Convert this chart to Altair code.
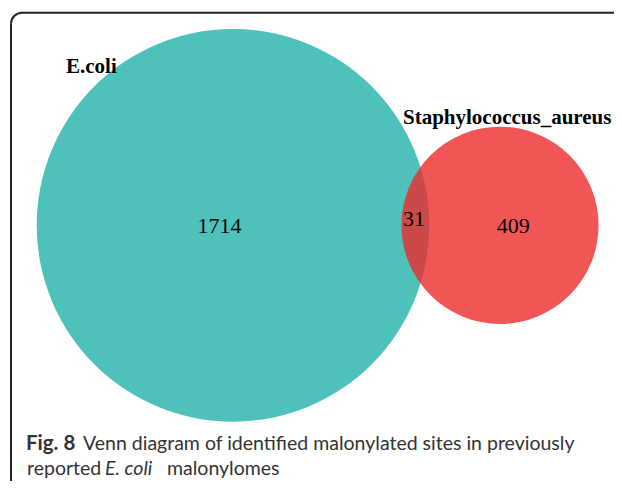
import altair as alt
import pandas as pd

# ---- data -------------------------------------------------------------
sets = ["E.coli", "Staphylococcus_aureus"]
set_totals = [1745, 440]            # 1714 + 31, 409 + 31
set_colors = ["#4EC1BB", "#ED292A"]
set_opacity = [1.0, 0.79]
center_x = [233, 500]               # layout units
center_y = [225.3, 225.3]

label_x = [66, 403]
label_y = [73, 124]

region_values = ["1714", "31", "409"]
region_x = [219.5, 414, 513.3]
region_y = [233, 226, 233]

caption_bold = ["Fig. 8"]
caption_regular = ["Venn diagram of identified malonylated sites in previously", "reported", "malonylomes"]
caption_italic = ["E. coli"]

# ---- layout helpers -----------------------------------------------------
W, H = 606, 473
xs = alt.Scale(domain=[8, 8 + W], nice=False, zero=False)
ys = alt.Scale(domain=[8, 8 + H], nice=False, zero=False, reverse=True)

def X(f="x"):
    return alt.X(f"{f}:Q", scale=xs, axis=None)

def Y(f="y"):
    return alt.Y(f"{f}:Q", scale=ys, axis=None)

# frame: top edge, left edge and a rounded top-left corner
frame_col = "#222222"
top_df = pd.DataFrame({"x": [22], "x2": [700], "y": [12.7]})
left_df = pd.DataFrame({"x": [11], "y": [23.7], "y2": [560]})
corner_df = pd.DataFrame({"x": [22], "y": [23.7]})
top_line = alt.Chart(top_df).mark_rule(color=frame_col, strokeWidth=2).encode(
    x=X(), x2="x2:Q", y=Y())
left_line = alt.Chart(left_df).mark_rule(color=frame_col, strokeWidth=2).encode(
    x=X(), y=Y(), y2="y2:Q")
corner = alt.Chart(corner_df).mark_arc(
    color=frame_col, theta=4.7124, theta2=6.2832, radius=12, radius2=10
).encode(x=X(), y=Y())

circ_df = pd.DataFrame({
    "set": sets, "total": set_totals, "x": center_x, "y": center_y,
    "op": set_opacity, "order": [0, 1],
})
circles = alt.Chart(circ_df).mark_point(shape="circle", filled=True, strokeWidth=0).encode(
    x=X(), y=Y(),
    size=alt.Size("total:Q", scale=alt.Scale(domain=[0, 1745], range=[0, 4 * 196.3 ** 2]), legend=None),
    color=alt.Color("set:N", scale=alt.Scale(domain=sets, range=set_colors), legend=None),
    opacity=alt.Opacity("op:Q", scale=None),
    order=alt.Order("order:Q"),
)

lab_df = pd.DataFrame({"t": sets, "x": label_x, "y": label_y})
labels = alt.Chart(lab_df).mark_text(
    font="Liberation Serif", fontWeight="bold", fontSize=21, align="left",
    baseline="alphabetic", color="#000000"
).encode(x=X(), y=Y(), text="t:N")

num_df = pd.DataFrame({"t": region_values, "x": region_x, "y": region_y})
numbers = alt.Chart(num_df).mark_text(
    font="Liberation Serif", fontSize=22, align="center",
    baseline="alphabetic", color="#000000"
).encode(x=X(), y=Y(), text="t:N")

cap_font = "Lato"
cap_size = 19.5
cap_color = "#333333"
cb_df = pd.DataFrame({"t": caption_bold, "x": [26], "y": [450]})
cr_df = pd.DataFrame({"t": caption_regular, "x": [83, 27, 167], "y": [450, 475, 475]})
ci_df = pd.DataFrame({"t": caption_italic, "x": [105], "y": [475]})
cap_b = alt.Chart(cb_df).mark_text(font=cap_font, fontSize=20.5, fontWeight="bold",
                                   align="left", baseline="alphabetic", color=cap_color
                                   ).encode(x=X(), y=Y(), text="t:N")
cap_r = alt.Chart(cr_df).mark_text(font=cap_font, fontSize=cap_size,
                                   align="left", baseline="alphabetic", color=cap_color
                                   ).encode(x=X(), y=Y(), text="t:N")
cap_i = alt.Chart(ci_df).mark_text(font=cap_font, fontSize=cap_size, fontStyle="italic",
                                   align="left", baseline="alphabetic", color=cap_color
                                   ).encode(x=X(), y=Y(), text="t:N")

chart = alt.layer(top_line, left_line, corner, circles, labels, numbers, cap_b, cap_r, cap_i).properties(
    width=W, height=H, padding=0, autosize=alt.AutoSizeParams(type="none"),
    background="#ffffff",
).configure_view(stroke=None)

chart.save("out.html", embed_options={"renderer": "svg", "actions": False})
